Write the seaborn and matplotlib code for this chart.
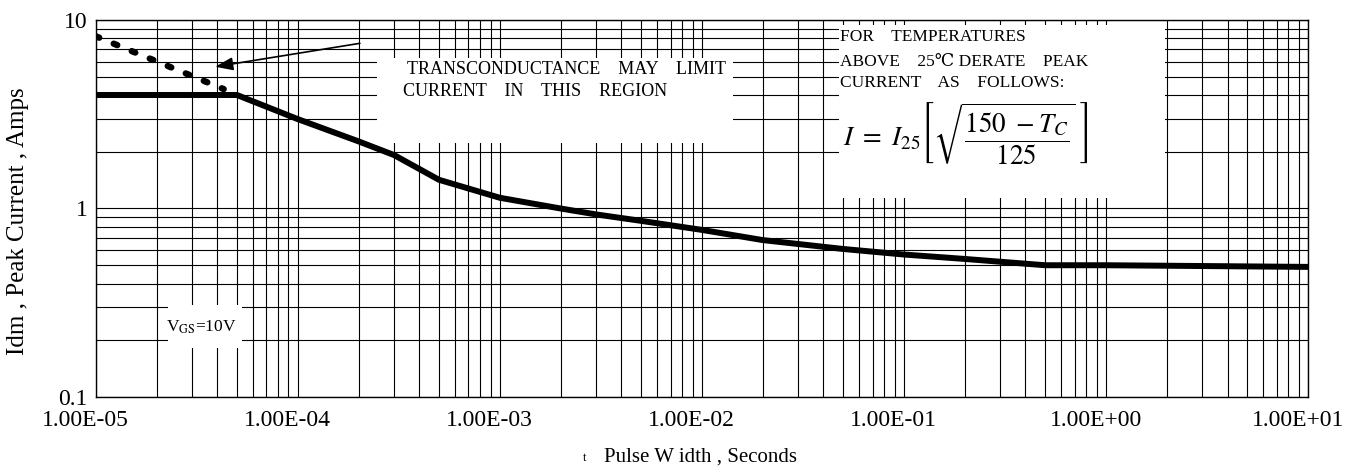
import numpy as np
import pandas as pd
import matplotlib
matplotlib.use("Agg")
import matplotlib.pyplot as plt
import matplotlib.transforms as mtransforms
from matplotlib.patches import Rectangle
from matplotlib.ticker import FixedLocator, LogLocator, NullFormatter
import seaborn as sns

# ---------------- data ----------------
pulse_width = [1e-5, 5e-5, 1e-4, 2e-4, 3e-4, 5e-4, 1e-3, 2e-3, 3e-3, 5e-3,
               1e-2, 2e-2, 5e-2, 1e-1, 2e-1, 5e-1, 1.0, 10.0]
peak_current = [4.0, 4.0, 2.98, 2.27, 1.92, 1.42, 1.14, 1.0, 0.93, 0.86,
                0.77, 0.68, 0.61, 0.57, 0.54, 0.50, 0.50, 0.49]

transc_width = [1e-5, 4.3e-5]
transc_current = [8.2, 4.3]

x_ticks = [1e-5, 1e-4, 1e-3, 1e-2, 1e-1, 1e0, 1e1]
x_tick_labels = ["1.00E-05", "1.00E-04", "1.00E-03", "1.00E-02",
                 "1.00E-01", "1.00E+00", "1.00E+01"]
y_ticks = [0.1, 1, 10]
y_tick_labels = ["0.1", "1", "10"]

# ---------------- style ----------------
sns.set_theme(style="white")
plt.rcParams["font.family"] = ["Liberation Serif", "DejaVu Serif", "DejaVu Sans"]
plt.rcParams["mathtext.fontset"] = "stix"

fig = plt.figure(figsize=(13.54, 4.68), dpi=100)
ax = fig.add_axes([0.07068, 0.1517, 0.8953, 0.8056])

df_main = pd.DataFrame({"t": pulse_width, "I": peak_current})
df_tr = pd.DataFrame({"t": transc_width, "I": transc_current})

sns.lineplot(data=df_main, x="t", y="I", ax=ax, color="black", linewidth=4.3,
             solid_capstyle="round", solid_joinstyle="round", zorder=4)
sns.lineplot(data=df_tr, x="t", y="I", ax=ax, color="black", linewidth=4.6,
             linestyle=(0, (0.6, 2.45)), dash_capstyle="round", zorder=4)

ax.set_xscale("log")
ax.set_yscale("log")
ax.set_xlim(1e-5, 1e1)
ax.set_ylim(0.1, 10)

ax.xaxis.set_major_locator(FixedLocator(x_ticks))
ax.set_xticklabels(x_tick_labels)
ax.yaxis.set_major_locator(FixedLocator(y_ticks))
ax.set_yticklabels(y_tick_labels)
ax.xaxis.set_minor_locator(LogLocator(base=10, subs=np.arange(2, 10), numticks=20))
ax.yaxis.set_minor_locator(LogLocator(base=10, subs=np.arange(2, 10), numticks=20))
ax.xaxis.set_minor_formatter(NullFormatter())
ax.yaxis.set_minor_formatter(NullFormatter())
ax.tick_params(which="both", length=0)
ax.tick_params(axis="x", labelsize=17, pad=9, colors="black")
ax.tick_params(axis="y", labelsize=17, pad=6, colors="black")

offset = mtransforms.ScaledTranslation(-10 / 100, 0, fig.dpi_scale_trans)
for lab in ax.get_xticklabels():
    lab.set_transform(lab.get_transform() + offset)

ax.set_axisbelow(True)
ax.grid(True, which="both", color="black", linewidth=0.8)
for sp in ax.spines.values():
    sp.set_color("black")
    sp.set_linewidth(1.0)

# labels
ax.set_ylabel("Idm , Peak Current , Amps", fontsize=18, color="black", va="center")
ax.yaxis.set_label_coords(-0.064, 0.467)
ax.set_xlabel("Pulse W idth , Seconds", fontsize=15, color="black", va="center")
ax.xaxis.set_label_coords(0.4985, -0.158)
ax.text(0.4032, -0.161, "t", transform=ax.transAxes, fontsize=9,
        ha="center", va="center", color="black")

# white boxes masking the grid
def box(x0, y0, x1, y1):
    ax.add_patch(Rectangle((x0, y0), x1 - x0, y1 - y0, transform=ax.transAxes,
                           facecolor="white", edgecolor="none", zorder=1.5))

box(0.2321, 0.6737, 0.5257, 0.8992)
box(0.6131, 0.5279, 0.8820, 0.9867)
box(0.0596, 0.1300, 0.1206, 0.2440)

txt_kw = dict(transform=ax.transAxes, color="black", zorder=5)
ax.text(0.2565, 0.8674, "TRANSCONDUCTANCE    MAY    LIMIT", fontsize=13,
        ha="left", va="center", **txt_kw)
ax.text(0.2537, 0.8098, "CURRENT    IN    THIS    REGION", fontsize=13,
        ha="left", va="center", **txt_kw)

ax.text(0.6139, 0.9557, "FOR    TEMPERATURES", fontsize=12.5, ha="left", va="center", **txt_kw)
ax.text(0.6139, 0.8894, "ABOVE    25℃ DERATE    PEAK", fontsize=12.5, ha="left", va="center", **txt_kw)
ax.text(0.6139, 0.8321, "CURRENT    AS    FOLLOWS:", fontsize=12.5, ha="left", va="center", **txt_kw)
ax.text(0.6165, 0.697, r"$I\ =\ I_{25}\left[\sqrt{\dfrac{150\ -T_C}{125}}\;\right]$",
        fontsize=19.5, ha="left", va="center", **txt_kw)

ax.text(0.0874, 0.1849, r"V$_{\mathrm{GS}}$=10V", fontsize=12.5, ha="center", va="center", **txt_kw)

# arrow
ax.annotate("", xy=(3.9e-5, 5.65), xytext=(2.03e-4, 7.52),
            arrowprops=dict(arrowstyle="-|>,head_length=0.6,head_width=0.22",
                            color="black", lw=1.2, mutation_scale=18,
                            shrinkA=0, shrinkB=0), zorder=5)

fig.savefig("out.png", dpi=100)
